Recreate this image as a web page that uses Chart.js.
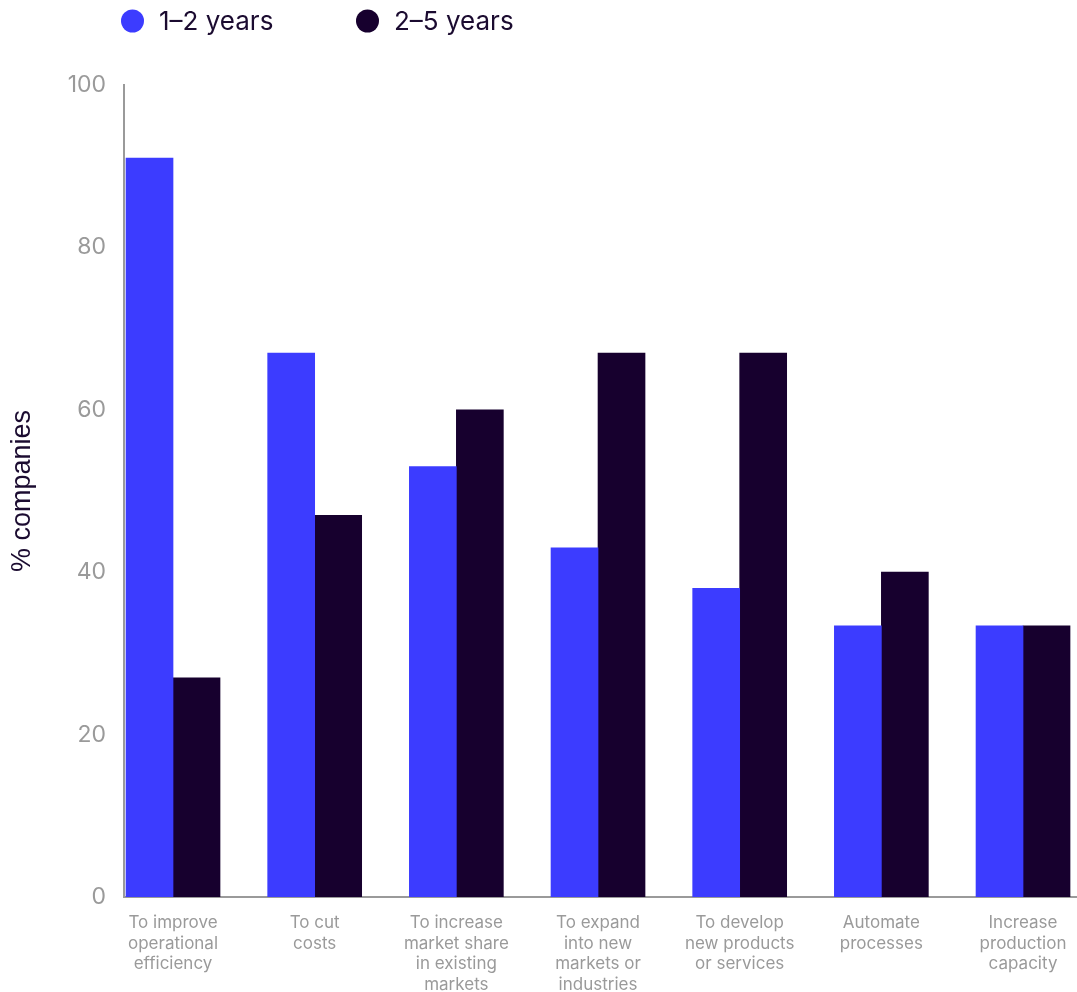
<!DOCTYPE html>
<html>
<head>
<meta charset="utf-8">
<script src="https://cdn.jsdelivr.net/npm/chart.js@4.4.1/dist/chart.umd.min.js"></script>
<style>
  html, body { margin: 0; padding: 0; background: #ffffff; }
  #wrap { width: 1077px; height: 992px; position: relative; }
</style>
</head>
<body>
<div id="wrap"><canvas id="c" width="1077" height="992"></canvas></div>
<script>
const categories = [
  ["To improve", "operational", "efficiency"],
  ["To cut", "costs"],
  ["To increase", "market share", "in existing", "markets"],
  ["To expand", "into new", "markets or", "industries"],
  ["To develop", "new products", "or services"],
  ["Automate", "processes"],
  ["Increase", "production", "capacity"]
];
const seriesNames = ["1–2 years", "2–5 years"];
const oneToTwoYears = [91, 67, 53, 43, 38, 33.4, 33.4];
const twoToFiveYears = [27, 47, 60, 67, 67, 40, 33.4];
const yTicks = [0, 20, 40, 60, 80, 100];
const yTitle = "% companies";

const BLUE = "#3c3cff";
const DARK = "#17002e";
const GRAY = "#9a9a9a";
const FONT = "Inter, 'Noto Sans', sans-serif";

const legendPlugin = {
  id: "customLegend",
  afterDraw(chart) {
    const ctx = chart.ctx;
    ctx.save();
    const starts = [121, 356];
    chart.data.datasets.forEach((ds, i) => {
      const x = starts[i];
      ctx.fillStyle = ds.backgroundColor;
      ctx.beginPath();
      ctx.arc(x + 11.5, 21, 11.5, 0, Math.PI * 2);
      ctx.fill();
      ctx.fillStyle = "#1b0b30";
      ctx.font = "400 26px " + FONT;
      ctx.textBaseline = "middle";
      ctx.textAlign = "left";
      ctx.fillText(ds.label, x + 38, 22);
    });
    ctx.restore();
  }
};

new Chart(document.getElementById("c"), {
  type: "bar",
  data: {
    datasets: [
      { label: seriesNames[0], data: oneToTwoYears.map((v, i) => ({ x: i, y: v })), backgroundColor: BLUE, barThickness: 47 },
      { label: seriesNames[1], data: twoToFiveYears.map((v, i) => ({ x: i, y: v })), backgroundColor: DARK, barThickness: 47 }
    ]
  },
  options: {
    responsive: false,
    animation: false,
    devicePixelRatio: 1,
    layout: { padding: { top: 85, left: 0, right: 0, bottom: 0 } },
    plugins: {
      legend: { display: false },
      tooltip: { enabled: false },
      title: { display: false }
    },
    scales: {
      x: {
        type: "linear",
        offset: false,
        min: -0.346,
        max: 6.381,
        grid: { display: false, drawTicks: false, offset: false },
        border: { display: true, color: GRAY, width: 2 },
        afterBuildTicks: (s) => { s.ticks = categories.map((_, i) => ({ value: i })); },
        afterFit: (s) => { s.height = 95; s.paddingLeft = 0; s.paddingRight = 0; },
        ticks: {
          autoSkip: false,
          maxRotation: 0,
          minRotation: 0,
          padding: 16,
          color: GRAY,
          font: { family: FONT, size: 17, lineHeight: 1.2 },
          callback: (v) => categories[v] || ""
        }
      },
      y: {
        min: 0,
        max: 100,
        grid: { display: false, drawTicks: false },
        border: { display: true, color: GRAY, width: 2 },
        afterBuildTicks: (s) => { s.ticks = yTicks.map(v => ({ value: v })); },
        afterFit: (s) => { s.width = 124; },
        ticks: {
          padding: 18,
          color: GRAY,
          font: { family: FONT, size: 23 }
        },
        title: {
          display: true,
          text: yTitle,
          color: "#1b0b30",
          font: { family: "'Liberation Sans', Arial, sans-serif", size: 27 },
          padding: { top: 6, bottom: 0 }
        }
      }
    }
  },
  plugins: [legendPlugin]
});
</script>
</body>
</html>
